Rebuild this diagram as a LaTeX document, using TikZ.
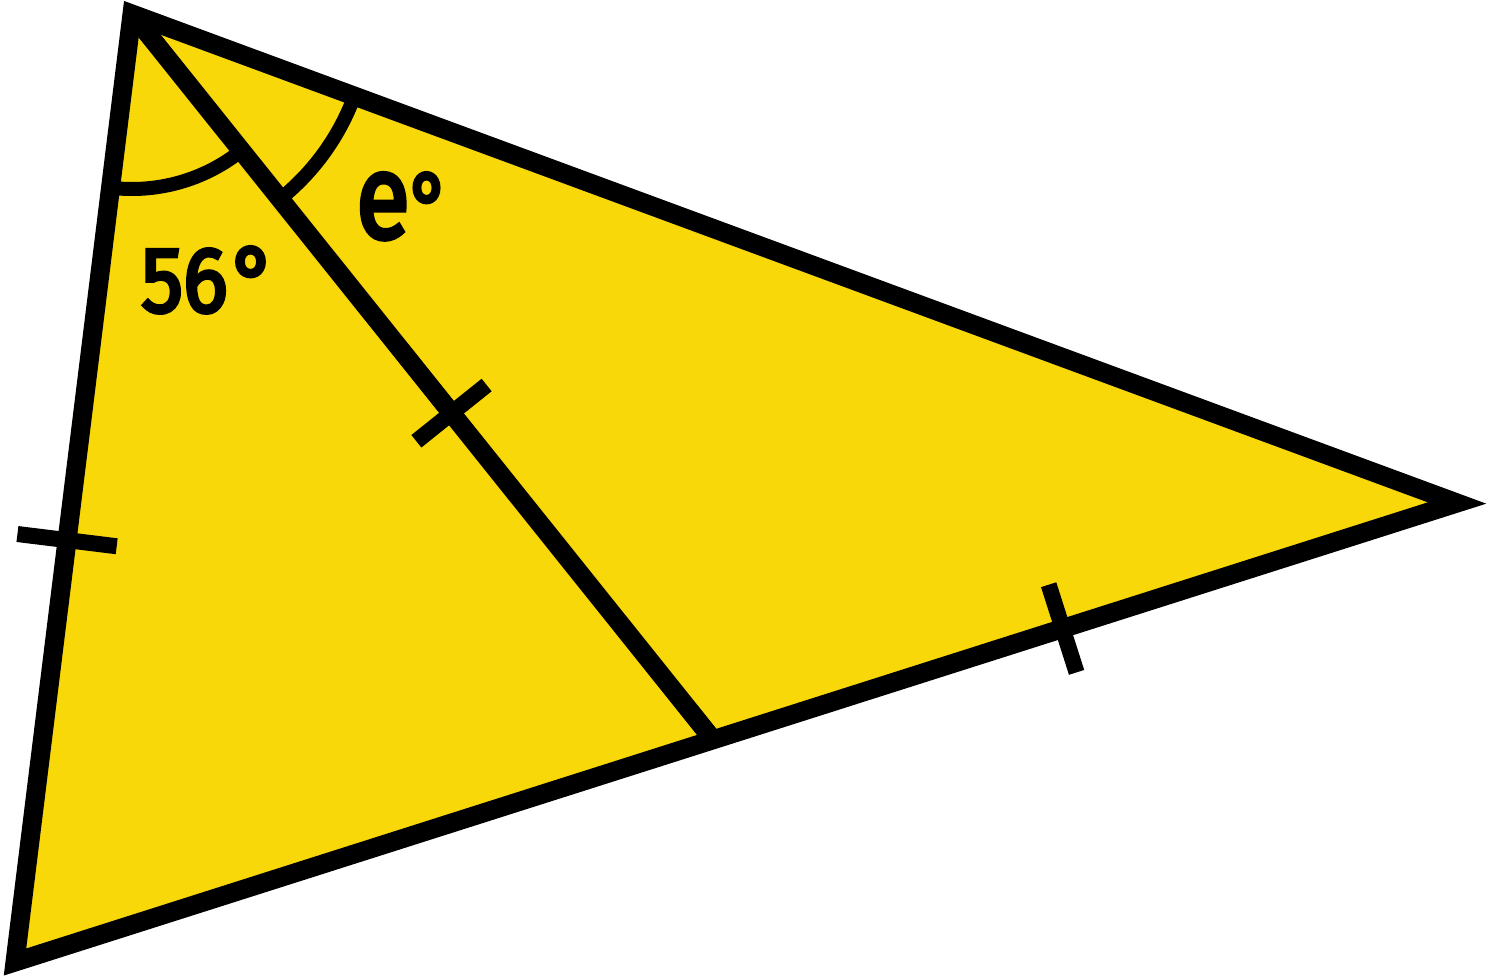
\documentclass[tikz,border=0pt]{standalone}
\usepackage{fontspec}
\setmainfont{Fira Sans}[FakeBold=4]
\usetikzlibrary{calc}
\definecolor{triyellow}{RGB}{249,216,10}
\tikzset{
  edge/.style={line width=19pt, line join=miter},
  tick/.style={line width=16pt},
  anglearc/.style={line width=14pt},
  lbl/.style={inner sep=0pt}
}
\begin{document}
\begin{tikzpicture}[x=1pt,y=1pt]
\useasboundingbox (0,0) rectangle (1489,-980);
\coordinate (A) at (132,-14);
\coordinate (B) at (15,-962);
\coordinate (C) at (1457,-503);
\coordinate (D) at (714,-741);
\fill[triyellow] (A) -- (B) -- (C) -- cycle;
% angle arcs
\draw[anglearc] ($(A)+(-97.1:175)$) arc[start angle=-97.1, end angle=-51.3, radius=175];
\draw[anglearc] ($(A)+(-51.3:237)$) arc[start angle=-51.3, end angle=-20.3, radius=237];
% triangle and cevian
\draw[edge] (A) -- (B) -- (C) -- cycle;
\draw[edge] (A) -- (D);
% ticks
\coordinate (T1) at ($(A)!0.555!(B)$);
\draw[tick] ($(T1)!50pt!90:(B)$) -- ($(T1)!50pt!-90:(B)$);
\coordinate (T2) at ($(A)!0.549!(D)$);
\draw[tick] ($(T2)!45pt!90:(D)$) -- ($(T2)!45pt!-90:(D)$);
\coordinate (T3) at ($(B)!0.7265!(C)$);
\draw[tick] ($(T3)!46pt!90:(C)$) -- ($(T3)!46pt!-90:(C)$);
% labels
\node[lbl, xscale=0.9, anchor=base west] (l56) at (141,-312) {\fontsize{93}{93}\selectfont 56\kern5pt°};
\node[lbl, xscale=0.82, anchor=base west] (le) at (356,-238) {{\fontsize{120}{120}\selectfont e}\fontsize{93}{93}\selectfont°};
\end{tikzpicture}
\end{document}
